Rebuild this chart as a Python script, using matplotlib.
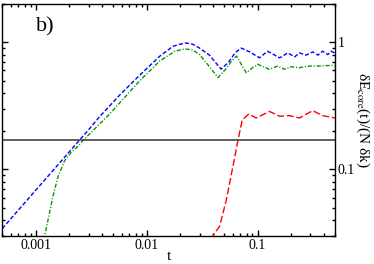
import numpy as np
import matplotlib
matplotlib.use("Agg")
import matplotlib.pyplot as plt
from matplotlib.ticker import LogLocator, NullFormatter, FixedLocator, FixedFormatter

plt.rcParams['font.family'] = ['Liberation Serif', 'DejaVu Serif']
plt.rcParams['mathtext.fontset'] = 'stix'

# blue dashed curve
t_blue = [5e-4, 1e-3, 2e-3, 3e-3, 3.77e-3, 5.73e-3, 8.65e-3, 0.0131, 0.0173, 0.020,
          0.0228, 0.026, 0.030, 0.037, 0.042, 0.047, 0.055, 0.063, 0.0713, 0.085,
          0.104, 0.123, 0.14, 0.158, 0.187, 0.216, 0.239, 0.274, 0.314, 0.35,
          0.386, 0.43, 0.46, 0.5]
y_blue = [0.0343, 0.0686, 0.137, 0.205, 0.26, 0.385, 0.55, 0.775, 0.93, 0.965,
          0.987, 0.965, 0.90, 0.79, 0.69, 0.615, 0.70, 0.83, 0.90, 0.84,
          0.755, 0.85, 0.80, 0.754, 0.825, 0.768, 0.825, 0.792, 0.84, 0.792,
          0.851, 0.80, 0.851, 0.82]

# green dash-dot curve
t_green = [1.18e-3, 1.23e-3, 1.43e-3, 1.59e-3, 1.83e-3, 2.10e-3, 2.40e-3, 2.76e-3,
           4.64e-3, 8.65e-3, 0.0131, 0.018, 0.022, 0.026, 0.030, 0.037, 0.044,
           0.052, 0.059, 0.0647, 0.072, 0.0791, 0.09, 0.1007, 0.128, 0.152,
           0.175, 0.2, 0.238, 0.293, 0.361, 0.46, 0.5]
y_green = [0.028, 0.0326, 0.0612, 0.0876, 0.118, 0.137, 0.152, 0.174,
           0.273, 0.497, 0.711, 0.85, 0.887, 0.87, 0.80, 0.64, 0.527,
           0.62, 0.72, 0.778, 0.66, 0.576, 0.63, 0.67, 0.613, 0.65,
           0.613, 0.642, 0.631, 0.65, 0.65, 0.658, 0.655]

# red dashed curve
t_red = [0.039, 0.0401, 0.0455, 0.0523, 0.0599, 0.0665, 0.0728, 0.0835, 0.0973,
         0.128, 0.158, 0.194, 0.239, 0.314, 0.386, 0.5]
y_red = [0.028, 0.0308, 0.0357, 0.0577, 0.105, 0.169, 0.245, 0.273, 0.254,
         0.286, 0.262, 0.265, 0.254, 0.290, 0.265, 0.254]

h_level = 0.169

fig = plt.figure(figsize=(3.74, 2.64), dpi=100)
ax = fig.add_axes([0.006, 0.106, 0.890, 0.879])

ax.plot(t_blue, y_blue, color='#0000ff', lw=1.0, dashes=(3, 1.5))
ax.plot(t_green, y_green, color='#009a00', lw=1.0, dashes=(3, 1.3, 0.8, 1.3))
ax.plot(t_red, y_red, color='#ff0000', lw=1.0, dashes=(5, 2))
ax.axhline(h_level, color='#444444', lw=1.2)

ax.set_xscale('log')
ax.set_yscale('log')
ax.set_xlim(5e-4, 0.5)
ax.set_ylim(0.03, 2.0)

ax.xaxis.set_major_locator(FixedLocator([0.001, 0.01, 0.1]))
ax.xaxis.set_major_formatter(FixedFormatter(['0.001', '0.01', '0.1']))
ax.xaxis.set_minor_locator(LogLocator(base=10, subs=np.arange(2, 10)))
ax.xaxis.set_minor_formatter(NullFormatter())
ax.yaxis.set_major_locator(FixedLocator([0.1, 1]))
ax.yaxis.set_major_formatter(FixedFormatter(['0.1', '1']))
ax.yaxis.set_minor_locator(LogLocator(base=10, subs=np.arange(2, 10)))
ax.yaxis.set_minor_formatter(NullFormatter())

ax.tick_params(which='both', direction='in', top=True, right=True,
               left=True, labelleft=False, labelright=True, labelsize=10,
               width=1.0, pad=2)
ax.tick_params(which='major', length=4.5)
ax.tick_params(which='minor', length=2.5)
for s in ax.spines.values():
    s.set_linewidth(1.0)

ax.set_xlabel('t', fontsize=11, labelpad=-1)
ax.yaxis.set_label_position('right')
ax.set_ylabel(r'δE$_{\rm core}$(t)/(N δk)', fontsize=11, rotation=270,
              labelpad=12)
ax.text(0.1, 0.9, 'b)', transform=ax.transAxes, fontsize=16, va='center')

fig.savefig('out.png', dpi=100)
